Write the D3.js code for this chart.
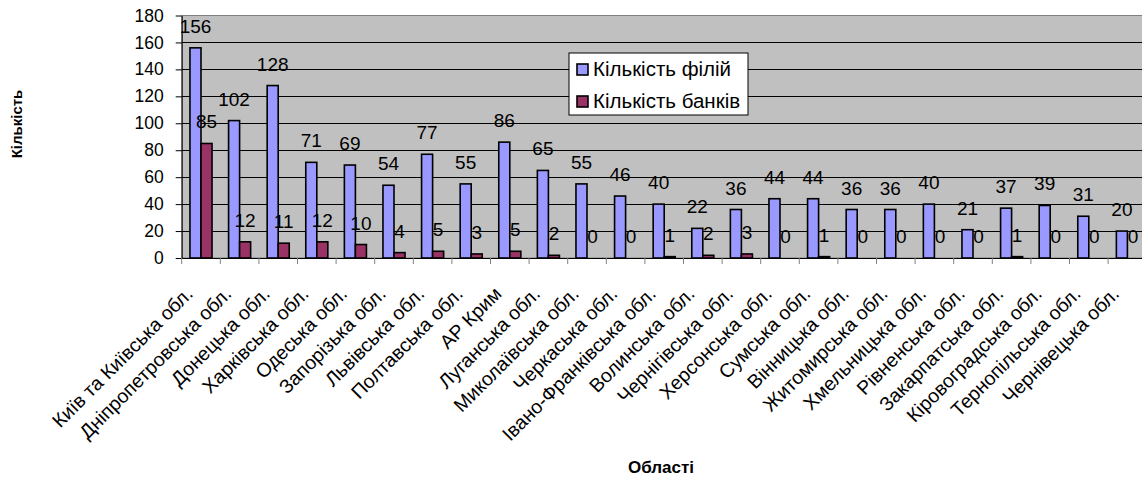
<!DOCTYPE html>
<html>
<head>
<meta charset="utf-8">
<script src="https://cdn.jsdelivr.net/npm/d3@7"></script>
<style>
  html, body { margin: 0; padding: 0; background: #fff; }
  svg { display: block; font-family: Arial, "Liberation Sans", sans-serif; }
</style>
</head>
<body>
<svg id="chart" width="1142" height="478"></svg>
<script>
// Regions of Ukraine
const regions = [
  "Київ та Київська обл.", "Дніпропетровська обл.", "Донецька обл.", "Харківська обл.",
  "Одеська обл.", "Запорізька обл.", "Львівська обл.", "Полтавська обл.", "АР Крим",
  "Луганська обл.", "Миколаївська обл.", "Черкаська обл.", "Івано-Франківська обл.",
  "Волинська обл.", "Чернігівська обл.", "Херсонська обл.", "Сумська обл.",
  "Вінницька обл.", "Житомирська обл.", "Хмельницька обл.", "Рівненська обл.",
  "Закарпатська обл.", "Кіровоградська обл.", "Тернопільська обл.", "Чернівецька обл."
];
// Number of branches per region
const branches = [156, 102, 128, 71, 69, 54, 77, 55, 86, 65, 55, 46, 40, 22, 36, 44, 44, 36, 36, 40, 21, 37, 39, 31, 20];
// Number of banks per region
const banks = [85, 12, 11, 12, 10, 4, 5, 3, 5, 2, 0, 0, 1, 2, 3, 0, 1, 0, 0, 0, 0, 1, 0, 0, 0];
const seriesNames = ["Кількість філій", "Кількість банків"];
const seriesColors = ["#9999FF", "#993366"];
const yTicks = [0, 20, 40, 60, 80, 100, 120, 140, 160, 180];

const svg = d3.select("#chart");
const plot = { left: 181.7, top: 15.5, bottom: 258, right: 181.7 + 25 * 38.6 };

const x = d3.scaleBand().domain(regions).range([plot.left, plot.right]).padding(0);
const xs = d3.scaleBand().domain([0, 1]).range([0, x.bandwidth()]).paddingInner(0).paddingOuter(0.75);
const y = d3.scaleLinear().domain([0, 180]).range([plot.bottom, plot.top]);

// plot background
svg.append("rect")
  .attr("x", plot.left).attr("y", plot.top)
  .attr("width", plot.right - plot.left).attr("height", plot.bottom - plot.top)
  .attr("fill", "#C0C0C0").attr("stroke", "#808080").attr("stroke-width", 1);

// horizontal gridlines
svg.append("g").selectAll("line")
  .data(yTicks.filter(t => t > 0 && t < 180))
  .join("line")
  .attr("x1", plot.left).attr("x2", plot.right)
  .attr("y1", d => Math.round(y(d)) + 0.5).attr("y2", d => Math.round(y(d)) + 0.5)
  .attr("stroke", "#000").attr("stroke-width", 1);

// y axis
const yAxis = svg.append("g")
  .attr("transform", `translate(${plot.left},0)`)
  .call(d3.axisLeft(y).tickValues(yTicks).tickSize(6).tickPadding(12).tickSizeOuter(0));
yAxis.select(".domain").attr("stroke", "#000");
yAxis.selectAll(".tick line").attr("stroke", "#000");
yAxis.selectAll("text").attr("font-size", 17.5).attr("fill", "#000")
  .attr("font-family", 'Arial, "Liberation Sans", sans-serif');

// x axis
const xAxis = svg.append("g")
  .attr("transform", `translate(0,${plot.bottom})`)
  .call(d3.axisBottom(x).tickSize(0).tickSizeOuter(0).tickFormat(""));
xAxis.select(".domain").attr("stroke", "#000");
// category separator ticks
svg.append("g").selectAll("line")
  .data(regions)
  .join("line")
  .attr("x1", d => x(d)).attr("x2", d => x(d))
  .attr("y1", plot.bottom).attr("y2", plot.bottom + 6)
  .attr("stroke", "#808080").attr("stroke-width", 1);

// rotated category labels
svg.append("g").selectAll("text")
  .data(regions)
  .join("text")
  .attr("transform", d => `translate(${x(d) + x.bandwidth() / 2 - 7},${plot.bottom + 37}) rotate(-45)`)
  .attr("text-anchor", "end")
  .attr("font-size", 19.5)
  .attr("fill", "#000")
  .text(d => d);

// bars with value labels
const series = [branches, banks];
series.forEach((vals, si) => {
  const g = svg.append("g");
  g.selectAll("rect")
    .data(vals)
    .join("rect")
    .attr("x", (d, i) => x(regions[i]) + xs(si))
    .attr("y", d => y(d))
    .attr("width", xs.bandwidth())
    .attr("height", d => y(0) - y(d))
    .attr("fill", seriesColors[si])
    .attr("stroke", d => d > 0 ? "#000" : "none")
    .attr("stroke-width", 1.6);
  g.selectAll("text")
    .data(vals)
    .join("text")
    .attr("x", (d, i) => x(regions[i]) + xs(si) + xs.bandwidth() / 2)
    .attr("y", d => y(d) - 15)
    .attr("text-anchor", "middle")
    .attr("font-size", 19)
    .attr("fill", "#000")
    .text(d => d);
});

// legend
const legend = svg.append("g").attr("transform", "translate(569,53)");
legend.append("rect").attr("width", 179).attr("height", 62)
  .attr("fill", "#fff").attr("stroke", "#000").attr("stroke-width", 1);
seriesNames.forEach((name, i) => {
  const row = legend.append("g").attr("transform", `translate(0,${16 + i * 32})`);
  row.append("rect").attr("x", 8).attr("y", -5).attr("width", 11).attr("height", 11)
    .attr("fill", seriesColors[i]).attr("stroke", "#000").attr("stroke-width", 1.6);
  row.append("text").attr("x", 24).attr("y", 0).attr("dy", "0.35em")
    .attr("font-size", 20.5).attr("fill", "#000").text(name);
});

// axis titles
svg.append("text")
  .attr("transform", "translate(22,124) rotate(-90)")
  .attr("text-anchor", "middle")
  .attr("font-size", 15).attr("font-weight", "bold").attr("fill", "#000")
  .text("Кількість");
svg.append("text")
  .attr("x", 661).attr("y", 473)
  .attr("text-anchor", "middle")
  .attr("font-size", 17).attr("font-weight", "bold").attr("fill", "#000")
  .text("Області");
</script>
</body>
</html>
